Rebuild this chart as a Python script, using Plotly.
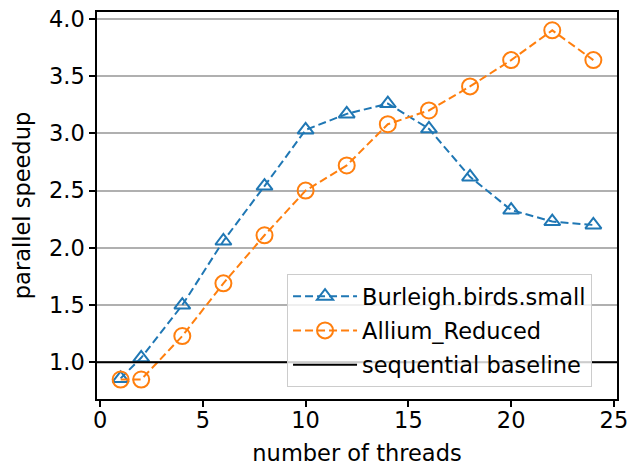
import plotly.graph_objects as go

threads_birds = [1, 2, 4, 6, 8, 10, 12, 14, 16, 18, 20, 22, 24]
speedup_birds = [0.86, 1.04, 1.50, 2.06, 2.54, 3.03, 3.17, 3.26, 3.04, 2.62, 2.33, 2.23, 2.20]
threads_allium = [1, 2, 4, 6, 8, 10, 12, 14, 16, 18, 20, 22, 24]
speedup_allium = [0.85, 0.85, 1.23, 1.69, 2.11, 2.50, 2.72, 3.08, 3.20, 3.41, 3.64, 3.90, 3.64]
baseline = 1.0
x_ticks = [0, 5, 10, 15, 20, 25]
y_ticks = [1.0, 1.5, 2.0, 2.5, 3.0, 3.5, 4.0]

BLUE = "#1f77b4"
ORANGE = "#ff7f0e"
FONT = "DejaVu Sans"
FS = 22.5

fig = go.Figure()
fig.add_trace(go.Scatter(
    x=threads_birds, y=speedup_birds, name="Burleigh.birds.small",
    mode="lines+markers", legendgroup="a",
    line=dict(color=BLUE, width=2, dash="8px,4px"),
    marker=dict(symbol="triangle-up-open", size=14, color=BLUE, line=dict(width=2, color=BLUE)),
))
fig.add_trace(go.Scatter(
    x=threads_allium, y=speedup_allium, name="Allium_Reduced",
    mode="lines+markers", legendgroup="b",
    line=dict(color=ORANGE, width=2, dash="8px,4px"),
    marker=dict(symbol="circle-open", size=16, color=ORANGE, line=dict(width=2, color=ORANGE)),
))
fig.add_shape(type="line", xref="paper", x0=0, x1=1, yref="y", y0=baseline, y1=baseline,
              line=dict(color="black", width=2), showlegend=True, name="sequential baseline",
              legendgroup="c", layer="above")

axis_common = dict(
    showline=True, linecolor="black", linewidth=1.5, mirror=True,
    ticks="outside", ticklen=6, tickwidth=1.5, tickcolor="black",
    tickfont=dict(family=FONT, size=FS, color="black"),
    zeroline=False, automargin=False,
)
fig.update_xaxes(range=[-0.15, 25.15], tickvals=x_ticks, showgrid=False, ticklabelstandoff=-6,
                 title=dict(text="number of threads", font=dict(family=FONT, size=FS, color="black"), standoff=14),
                 **axis_common)
fig.update_yaxes(range=[0.68, 4.06], tickvals=y_ticks, tickformat=".1f",
                 showgrid=True, gridcolor="#b0b0b0", gridwidth=1.5,
                 title=dict(text="parallel speedup", font=dict(family=FONT, size=FS, color="black"), standoff=12),
                 **axis_common)

fig.update_layout(
    width=629, height=466,
    margin=dict(l=97, r=12, t=12, b=67),
    plot_bgcolor="white", paper_bgcolor="white",
    font=dict(family=FONT, size=FS, color="black"),
    legend=dict(
        x=0.952, y=0.031, xanchor="right", yanchor="bottom",
        bgcolor="rgba(255,255,255,0.8)", bordercolor="#cccccc", borderwidth=1,
        font=dict(family=FONT, size=FS, color="black"),
        tracegroupgap=2, itemwidth=64,
    ),
)

fig.write_html("out.html", config={"displayModeBar": False},
               post_script="document.body.style.margin='0';")
